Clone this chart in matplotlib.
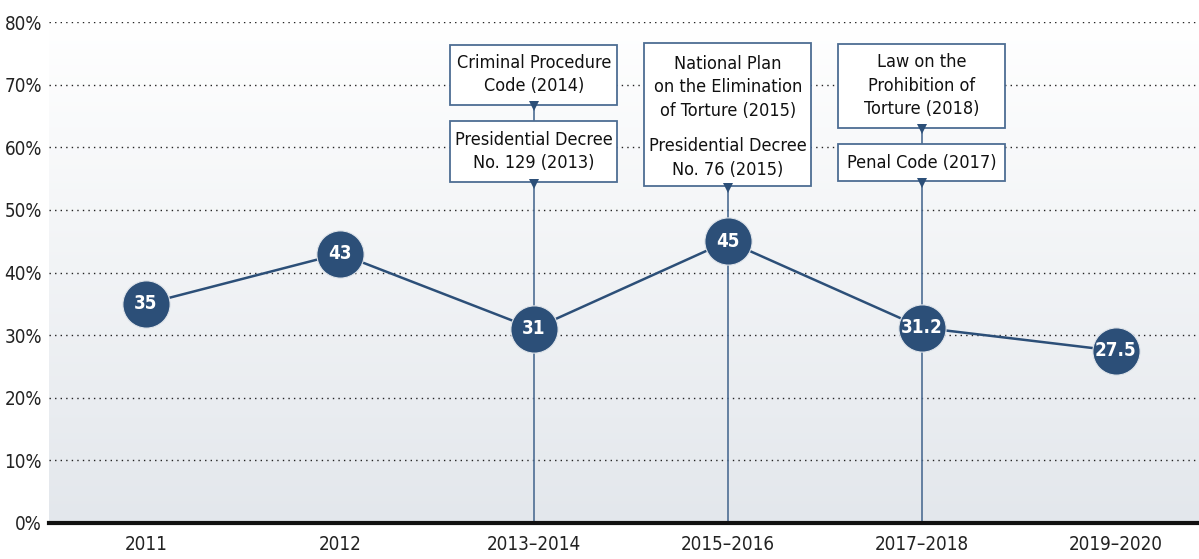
import numpy as np
import matplotlib
matplotlib.use("Agg")
import matplotlib.pyplot as plt
from matplotlib.patches import Rectangle
from matplotlib.colors import LinearSegmentedColormap

plt.rcParams['font.family'] = ['Liberation Sans Narrow', 'DejaVu Sans']
plt.rcParams['font.stretch'] = 'condensed'

# data
periods = ["2011", "2012", "2013\u20132014", "2015\u20132016", "2017\u20132018", "2019\u20132020"]
values = [35, 43, 31, 45, 31.2, 27.5]
value_labels = ["35", "43", "31", "45", "31.2", "27.5"]

# annotation boxes: (category index, center y, height in %)
boxes = [(2, 71.6, 9.6), (2, 59.3, 9.8), (3, 65.2, 22.8), (4, 69.8, 13.4), (4, 57.5, 5.9)]
# texts inside boxes: (category index, center y, text)
notes = [
    (2, 71.6, "Criminal Procedure\nCode (2014)"),
    (2, 59.3, "Presidential Decree\nNo. 129 (2013)"),
    (3, 69.6, "National Plan\non the Elimination\nof Torture (2015)"),
    (3, 58.3, "Presidential Decree\nNo. 76 (2015)"),
    (4, 69.8, "Law on the\nProhibition of\nTorture (2018)"),
    (4, 57.5, "Penal Code (2017)"),
]

navy = "#2c4f78"
steel = "#4d6d93"

fig = plt.figure(figsize=(11.99, 5.59), dpi=100)
ax = fig.add_axes([49 / 1199, 36 / 559, 1150 / 1199, 501 / 559])
ax.set_xlim(-0.5, 5.43)
ax.set_ylim(0, 80)

# gradient background
cmap = LinearSegmentedColormap.from_list("bg", ["#e3e7ec", "#ffffff"])
grad = np.linspace(0, 1, 256).reshape(-1, 1)
ax.imshow(grad, cmap=cmap, extent=[0, 1, 0, 1], transform=ax.transAxes,
          aspect="auto", origin="lower", zorder=0)

for s in ["top", "right", "left"]:
    ax.spines[s].set_visible(False)
ax.spines["bottom"].set_linewidth(3)
ax.spines["bottom"].set_color("#111111")
ax.spines["bottom"].set_zorder(6)

ax.set_yticks(range(0, 81, 10))
ax.set_yticklabels([f"{v}%" for v in range(0, 81, 10)], fontsize=13.5, color="#222222")
ax.set_xticks(range(len(periods)))
ax.set_xticklabels(periods, fontsize=13.5, color="#222222")
ax.tick_params(length=0)
ax.tick_params(axis="y", pad=5)
ax.tick_params(axis="x", pad=9)
ax.yaxis.grid(True, linestyle=(0, (1, 3)), color="#222222", linewidth=1)
ax.set_axisbelow(True)

# vertical connectors (run up to the bottom of the top box; boxes cover it)
box_w = 0.86
for i in (2, 3, 4):
    top_bottom = max(c - h / 2 for (k, c, h) in boxes if k == i)
    ax.plot([i, i], [0, top_bottom], color=steel, lw=1.2, zorder=2)

for (i, c, h) in boxes:
    ax.add_patch(Rectangle((i - box_w / 2, c - h / 2), box_w, h, facecolor="white",
                           edgecolor=steel, lw=1.3, zorder=3))
    ax.plot(i, c - h / 2 - 0.25, marker="v", markersize=7.5, color=navy,
            markeredgewidth=0, zorder=4)

for (i, c, t) in notes:
    ax.text(i, c, t, ha="center", va="center", fontsize=13, color="#111111",
            linespacing=1.4, zorder=4)

# line with circles
x = np.arange(len(values))
ax.plot(x, values, color=navy, lw=1.8, zorder=4)
ax.plot(x, values, "o", markersize=34, color=navy, markeredgecolor="#dfe4ea",
        markeredgewidth=0.8, zorder=5)
for xi, v, lab in zip(x, values, value_labels):
    ax.text(xi, v, lab, ha="center", va="center", color="white", fontsize=13.5,
            fontweight="bold", zorder=6)

fig.savefig("out.png", dpi=100)
